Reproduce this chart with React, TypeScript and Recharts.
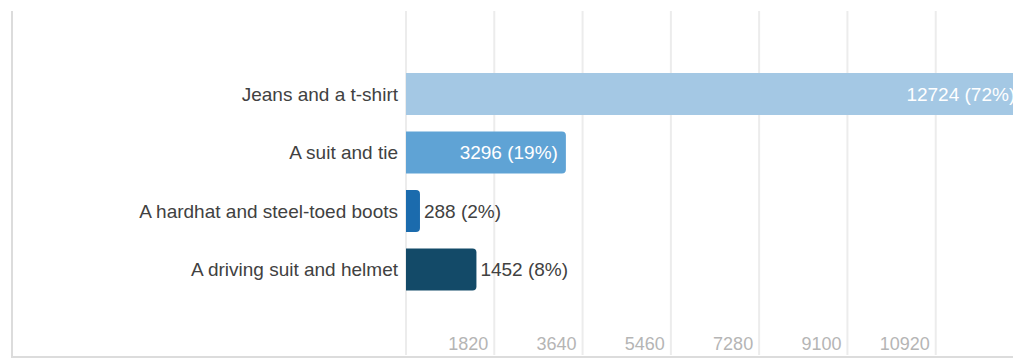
import React from 'react';
import { BarChart, Bar, XAxis, YAxis, CartesianGrid, Cell, LabelList } from 'recharts';

const categories = [
  'Jeans and a t-shirt',
  'A suit and tie',
  'A hardhat and steel-toed boots',
  'A driving suit and helmet',
];
const counts = [12724, 3296, 288, 1452];
const percents = [72, 19, 2, 8];
const barColors = ['#a4c8e4', '#5fa3d5', '#1b6bad', '#134a68'];
const tickValues = [0, 1820, 3640, 5460, 7280, 9100, 10920];
const axisMax = 12740;

const data = categories.map((name, i) => ({ name, value: counts[i], pct: percents[i] }));

const FONT = '"Liberation Sans", Arial, Helvetica, sans-serif';

const YTick = (props: any) => {
  const { x, y, payload } = props;
  return (
    <text x={x - 8} y={y} textAnchor="end" dominantBaseline="central" fill="#414141" fontSize={19} fontFamily={FONT}>
      {payload.value}
    </text>
  );
};

const XTick = (props: any) => {
  const { x, payload } = props;
  if (payload.value === 0) return <g />;
  return (
    <text x={x - 6} y={350} textAnchor="end" fill="#b5b5b5" fontSize={18} fontFamily={FONT}>
      {payload.value}
    </text>
  );
};

const ValueLabel = (props: any) => {
  const { x, y, width, height, index } = props;
  const d = data[index];
  const text = `${d.value} (${d.pct}%)`;
  const inside = width > 130;
  return (
    <text
      x={inside ? x + width - 8 : x + width + 4}
      y={y + height / 2}
      textAnchor={inside ? 'end' : 'start'}
      dominantBaseline="central"
      fill={inside ? '#ffffff' : '#414141'}
      fontSize={19}
      fontFamily={FONT}
    >
      {text}
    </text>
  );
};

export default function App() {
  return (
    <div style={{ position: 'absolute', left: 0, top: 0, width: 1013, height: 360, overflow: 'hidden', background: '#fff', fontFamily: FONT }}>
      <BarChart
        width={1024}
        height={360}
        data={data}
        layout="vertical"
        margin={{ top: 11, right: 0, bottom: 0, left: 0 }}
      >
        <CartesianGrid horizontal={false} stroke="#ececec" strokeWidth={2} />
        <XAxis
          type="number"
          domain={[0, axisMax]}
          ticks={tickValues}
          tickLine={false}
          axisLine={false}
          tickSize={0}
          tickMargin={0}
          height={5}
          tick={<XTick />}
          interval={0}
        />
        <YAxis
          type="category"
          dataKey="name"
          width={406}
          tickLine={false}
          axisLine={false}
          tickSize={0}
          tickMargin={0}
          padding={{ top: 54, bottom: 56 }}
          tick={<YTick />}
          interval={0}
        />
        <Bar dataKey="value" barSize={42} radius={[0, 4, 4, 0]} isAnimationActive={false}>
          {data.map((d, i) => (
            <Cell key={d.name} fill={barColors[i]} />
          ))}
          <LabelList dataKey="value" content={<ValueLabel />} />
        </Bar>
      </BarChart>
      <div style={{ position: 'absolute', left: 11, top: 11, width: 2, height: 347, background: '#dcdcdc' }} />
      <div style={{ position: 'absolute', left: 11, top: 356, width: 1002, height: 2, background: '#dcdcdc' }} />
    </div>
  );
}
